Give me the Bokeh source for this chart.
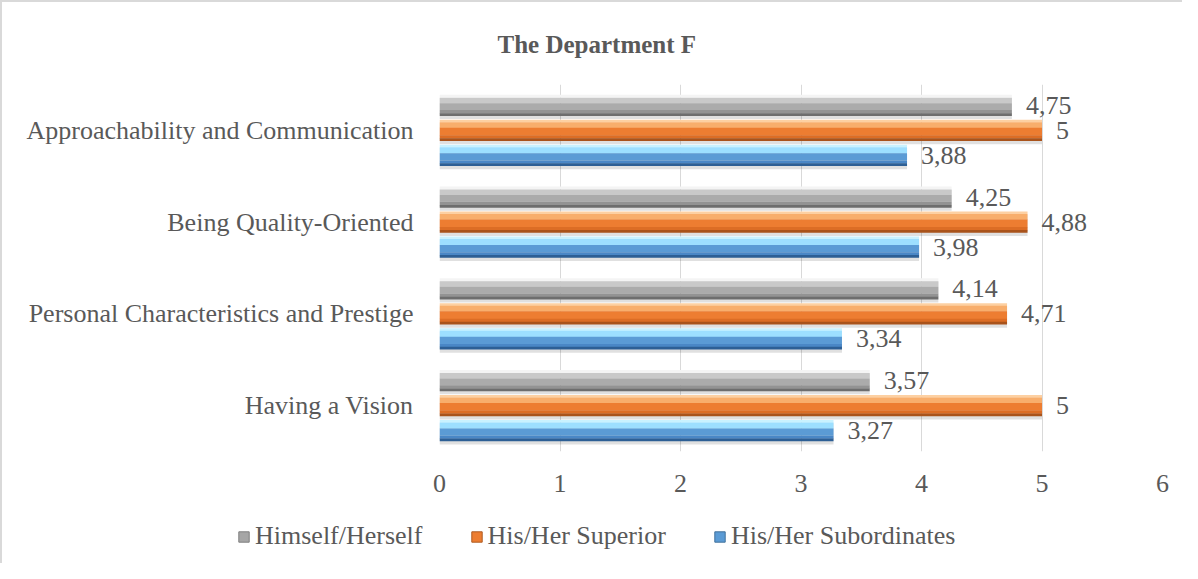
from bokeh.plotting import figure
from bokeh.layouts import column
from bokeh.models import Range1d, FixedTicker, ColumnDataSource, Legend, LegendItem, FactorRange
from bokeh.transform import dodge
from bokeh.core.properties import value
from bokeh.embed import file_html
from bokeh.resources import INLINE

# ---- data ----
categories = ["Having a Vision",
              "Personal Characteristics and Prestige",
              "Being Quality-Oriented",
              "Approachability and Communication"]
himself = [3.57, 4.14, 4.25, 4.75]
superior = [5, 4.71, 4.88, 5]
subordinates = [3.27, 3.34, 3.98, 3.88]
series_names = ["Himself/Herself", "His/Her Superior", "His/Her Subordinates"]
x_ticks = [0, 1, 2, 3, 4, 5, 6]

FONT = "Liberation Serif"
TXT = "#595959"
BORDER = "2px solid #d9d9d9"

p = figure(width=1182, height=520, output_backend="svg", toolbar_location=None,
           y_range=FactorRange(*categories), x_range=Range1d(0, 6),
           min_border_left=437, min_border_right=22, min_border_top=82, min_border_bottom=71)
p.frame_align = False
p.styles = {"border-left": BORDER, "border-top": BORDER}
p.outline_line_color = None
p.background_fill_color = "white"
p.border_fill_color = "white"

p.title.text = "The Department F"
p.title.text_font = FONT
p.title.text_font_size = "25px"
p.title.text_font_style = "bold"
p.title.text_color = TXT
p.title.align = "left"
p.title.vertical_align = "top"
p.title.offset = 58
p.title.standoff = 50

p.xgrid.ticker = FixedTicker(ticks=x_ticks)
p.xgrid.grid_line_color = "#d9d9d9"
p.ygrid.grid_line_color = None

p.xaxis.ticker = FixedTicker(ticks=x_ticks)
p.xaxis.axis_line_color = None
p.xaxis.major_tick_line_color = None
p.xaxis.minor_tick_line_color = None
p.xaxis.major_label_standoff = 17
p.xaxis.major_label_text_font = FONT
p.xaxis.major_label_text_font_size = "26px"
p.xaxis.major_label_text_color = TXT

p.yaxis.axis_line_color = None
p.yaxis.major_tick_line_color = None
p.yaxis.minor_tick_line_color = None
p.yaxis.major_label_standoff = 20
p.yaxis.major_label_text_font = FONT
p.yaxis.major_label_text_font_size = "26px"
p.yaxis.major_label_text_color = TXT

H = 0.23
offsets = [0.273, 0.0, -0.273]
stripes = [
    [(0.0, 0.14, "#f4f4f4"), (0.14, 0.4, "#c9c9c9"), (0.4, 0.72, "#ababab"), (0.72, 0.88, "#939393"), (0.88, 1.0, "#6e6e6e")],
    [(0.0, 0.12, "#fdd0a2"), (0.12, 0.38, "#f8ae6c"), (0.38, 0.74, "#ed7d31"), (0.74, 0.88, "#dc6d25"), (0.88, 1.0, "#a9531b")],
    [(0.0, 0.12, "#c9f2ff"), (0.12, 0.4, "#9ddfff"), (0.4, 0.74, "#5b9bd5"), (0.74, 0.88, "#4a87c6"), (0.88, 1.0, "#2d5f95")],
]
legend_colors = ["#a6a6a6", "#ed7d31", "#5b9bd5"]
legend_lines = ["#7f7f7f", "#ae5a21", "#41719c"]
series_vals = [himself, superior, subordinates]

for vals, off, st in zip(series_vals, offsets, stripes):
    src = ColumnDataSource(dict(cat=categories, v=vals,
                                lab=[f"{x:g}".replace(".", ",") for x in vals]))
    # soft shadow
    p.hbar(y=dodge("cat", off - 0.035, range=p.y_range), right="v", left=0, height=H,
           source=src, fill_color="#000000", fill_alpha=0.12, line_color=None)
    for f0, f1, col in st:
        c_off = off + H * (0.5 - (f0 + f1) / 2)
        p.hbar(y=dodge("cat", c_off, range=p.y_range), right="v", left=0,
               height=H * (f1 - f0) + 0.002, source=src, fill_color=col, line_color=None)
    p.text(x="v", y=dodge("cat", off, range=p.y_range), text="lab", source=src,
           x_offset=14, text_baseline="middle", text_align="left",
           text_font=value(FONT), text_font_size="26px", text_color=TXT)

# ---- legend strip ----
lf = figure(width=1182, height=43, output_backend="svg", toolbar_location=None,
            x_axis_type=None, y_axis_type=None, min_border=0,
            min_border_left=0, min_border_right=0, min_border_top=0, min_border_bottom=0,
            x_range=Range1d(0, 1), y_range=Range1d(0, 1))
lf.frame_align = False
lf.styles = {"border-left": BORDER}
lf.outline_line_color = None
lf.grid.visible = False
lf.background_fill_color = "white"
lf.border_fill_color = "white"
items = []
hidden = ColumnDataSource(dict(x=[-5], y=[-5]))
for name, col, lc in zip(series_names, legend_colors, legend_lines):
    r = lf.rect(x="x", y="y", width=0.1, height=0.1, source=hidden,
                fill_color=col, line_color=lc)
    items.append(LegendItem(label=name, renderers=[r]))
legend = Legend(items=items, orientation="horizontal", location=(235, 12),
                border_line_color=None, background_fill_alpha=0, padding=0, margin=0,
                spacing=47, glyph_width=13, glyph_height=13, label_standoff=5,
                label_text_font=FONT, label_text_font_size="26px", label_text_color=TXT)
lf.add_layout(legend, "center")

open("out.html", "w").write(file_html(column(p, lf), INLINE))
